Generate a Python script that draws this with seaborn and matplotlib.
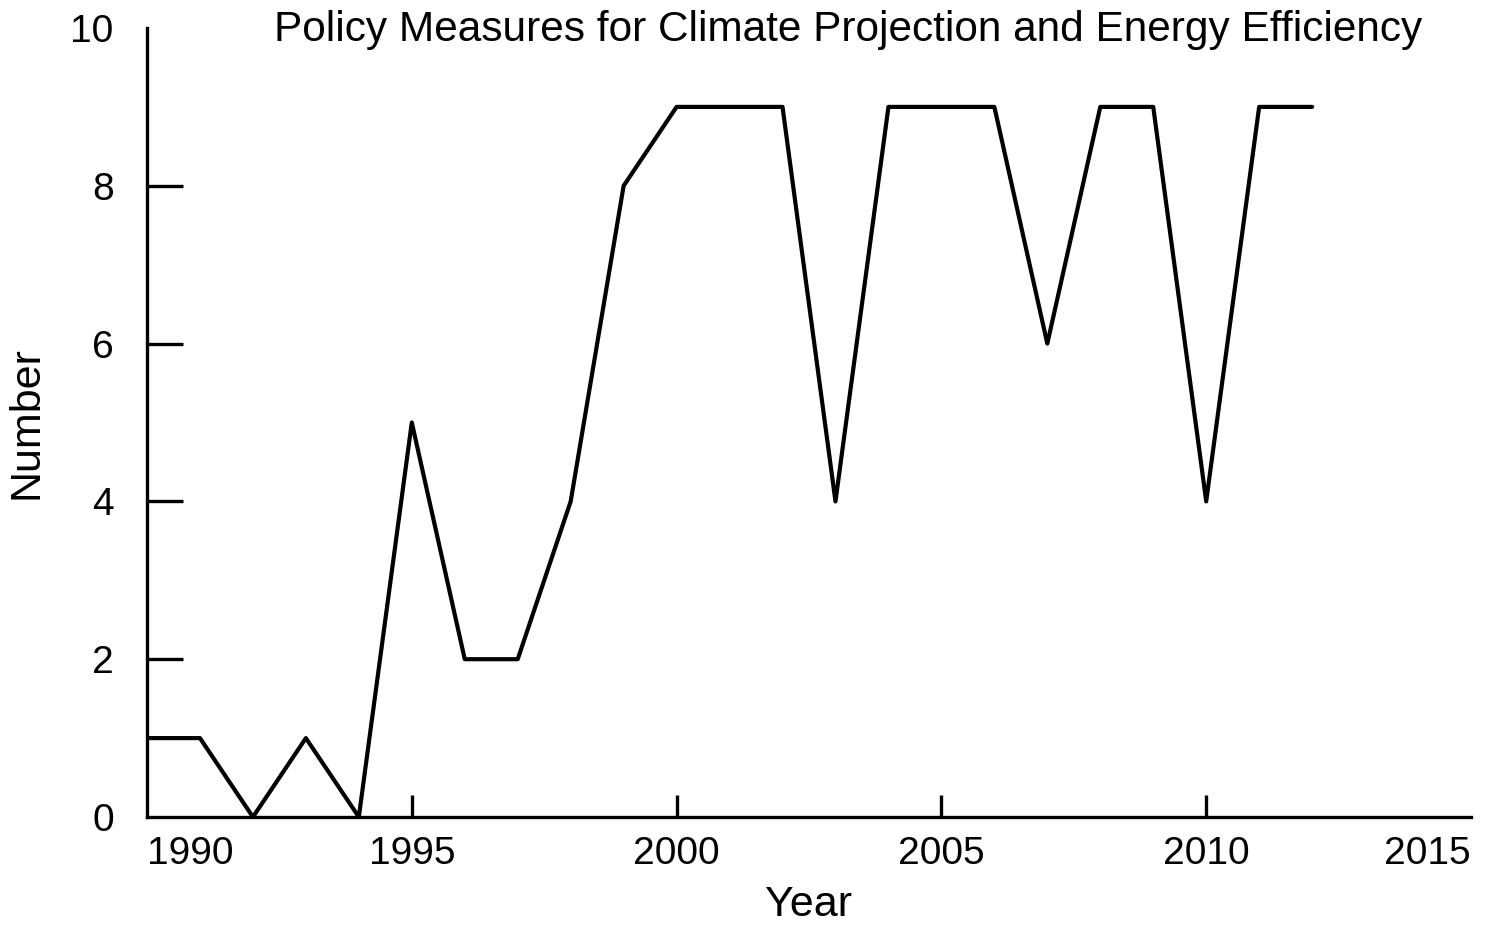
import pandas as pd
import numpy as np
import matplotlib
matplotlib.use("Agg")
import matplotlib.pyplot as plt
import seaborn as sns

# data
years = list(range(1990, 2013))
counts = [1, 1, 0, 1, 0, 5, 2, 2, 4, 8, 9, 9, 9, 4, 9, 9, 9, 6, 9, 9, 4, 9, 9]
xticks = [1990, 1995, 2000, 2005, 2010, 2015]
yticks = [0, 2, 4, 6, 8, 10]

df = pd.DataFrame({"Year": years, "Number": counts})

sns.set_style("ticks")
plt.rcParams["font.family"] = ["Liberation Sans", "DejaVu Sans"]
plt.rcParams["text.color"] = "black"
plt.rcParams["axes.labelcolor"] = "black"
plt.rcParams["xtick.color"] = "black"
plt.rcParams["ytick.color"] = "black"

fig = plt.figure(figsize=(14.85, 9.25), dpi=100)
ax = fig.add_axes([147 / 1485, 1 - 817 / 925, (1471 - 147) / 1485, (817 - 28) / 925])

sns.lineplot(data=df, x="Year", y="Number", color="black", linewidth=3, ax=ax)

ax.set_xlim(1990, 2015)
ax.set_ylim(0, 10)
ax.set_xticks(xticks)
ax.set_yticks(yticks)
ax.tick_params(axis="x", direction="in", length=16, width=2.4, labelsize=28, pad=14)
ax.tick_params(axis="y", direction="in", length=26, width=2.4, labelsize=28, pad=24)
labs = ax.get_xticklabels()
labs[0].set_horizontalalignment("left")
labs[-1].set_horizontalalignment("right")
# no tick marks at the axis ends
ax.xaxis.get_major_ticks()[0].tick1line.set_visible(False)
ax.xaxis.get_major_ticks()[-1].tick1line.set_visible(False)
ax.yaxis.get_major_ticks()[0].tick1line.set_visible(False)
ax.yaxis.get_major_ticks()[-1].tick1line.set_visible(False)

for s in ["top", "right"]:
    ax.spines[s].set_visible(False)
for s in ["left", "bottom"]:
    ax.spines[s].set_linewidth(2.4)
    ax.spines[s].set_color("black")

ax.set_xlabel("Year", fontsize=31, labelpad=9)
ax.set_ylabel("Number", fontsize=31, labelpad=17)

fig.text(848 / 1485, 1 - 30 / 925, "Policy Measures for Climate Projection and Energy Efficiency",
         ha="center", va="center", fontsize=30.5)

fig.savefig("out.png", dpi=100)
